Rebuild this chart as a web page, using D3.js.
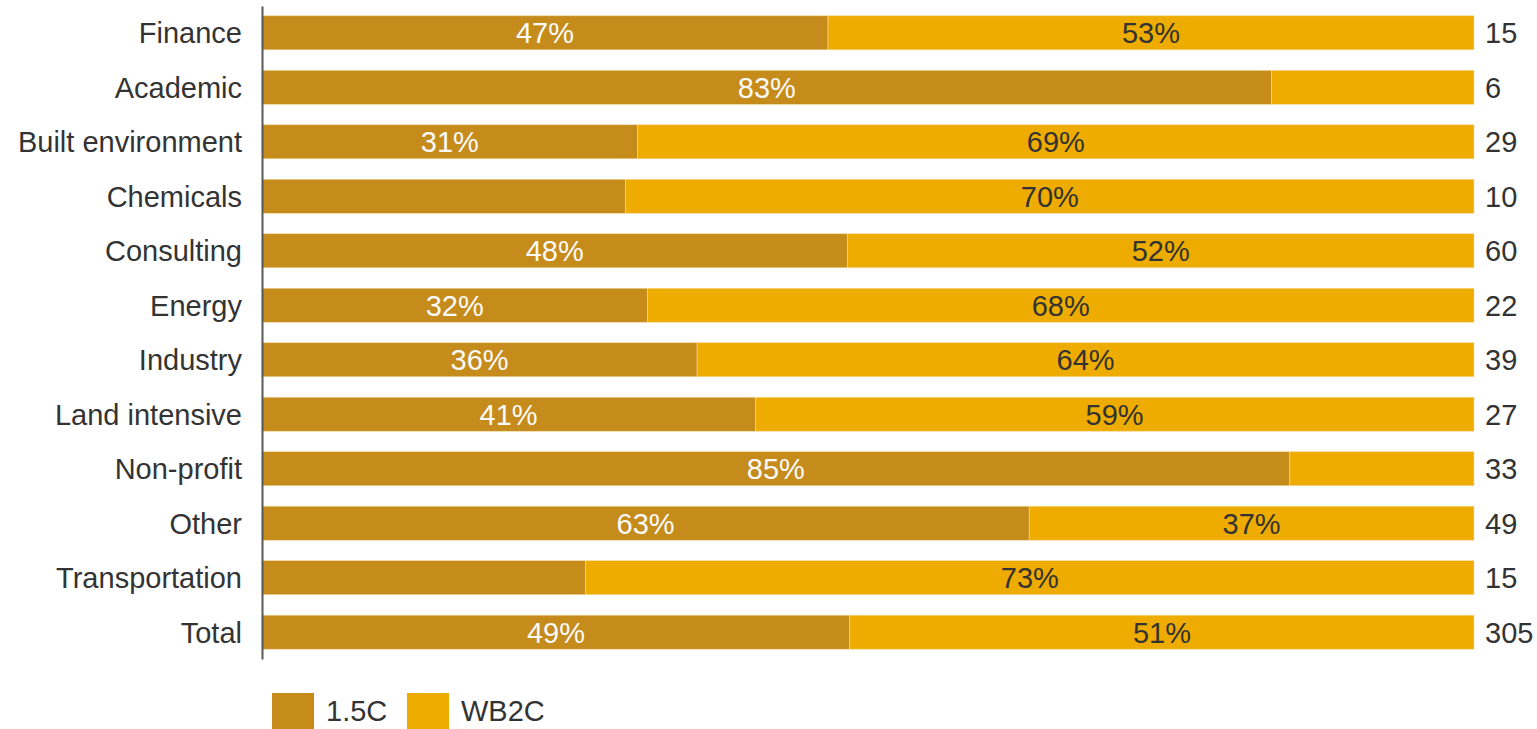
<!DOCTYPE html>
<html>
<head>
<meta charset="utf-8">
<script src="https://cdn.jsdelivr.net/npm/d3@7"></script>
<style>
  body { margin: 0; background: #fff; }
  text { font-family: "Liberation Sans", Arial, sans-serif; }
</style>
</head>
<body>
<div id="chart"></div>
<script>
// Chart values.
const sectors = ["Finance", "Academic", "Built environment", "Chemicals", "Consulting", "Energy",
  "Industry", "Land intensive", "Non-profit", "Other", "Transportation", "Total"];
const share15 = [46.7, 83.3, 31.0, 30.0, 48.3, 31.8, 35.9, 40.7, 84.8, 63.3, 26.7, 48.5];
const shareWB2 = [53.3, 16.7, 69.0, 70.0, 51.7, 68.2, 64.1, 59.3, 15.2, 36.7, 73.3, 51.5];
const label15 = ["47%", "83%", "31%", null, "48%", "32%", "36%", "41%", "85%", "63%", null, "49%"];
const labelWB2 = ["53%", null, "69%", "70%", "52%", "68%", "64%", "59%", null, "37%", "73%", "51%"];
const counts = [15, 6, 29, 10, 60, 22, 39, 27, 33, 49, 15, 305];
const seriesNames = ["1.5C", "WB2C"];

const width = 1537;
const height = 729;
const colors = ["#C58B1B", "#EFAC00"];
const fontSize = 29;

const rows = sectors.map(function(s, i) {
  return { sector: s, a: share15[i], b: shareWB2[i], la: label15[i], lb: labelWB2[i], n: counts[i] };
});

const svg = d3.select("#chart")
  .append("svg")
  .attr("width", width)
  .attr("height", height);

const x = d3.scaleLinear()
  .domain([0, 100])
  .range([262, 1474]);

const y = d3.scaleBand()
  .domain(sectors)
  .range([6, 659])
  .paddingInner(0.376)
  .paddingOuter(0.18);

// Stacked bars.
const stack = d3.stack().keys(["a", "b"]);
const layers = stack(rows);

svg.selectAll("g.layer")
  .data(layers)
  .enter()
  .append("g")
  .attr("class", "layer")
  .attr("fill", function(d, i) { return colors[i]; })
  .selectAll("rect")
  .data(function(d) { return d; })
  .enter()
  .append("rect")
  .attr("x", function(d) { return x(d[0]); })
  .attr("y", function(d) { return y(d.data.sector); })
  .attr("width", function(d) { return x(d[1]) - x(d[0]); })
  .attr("height", y.bandwidth())
  .attr("stroke", "#f3d9a0")
  .attr("stroke-width", 0.6);

// Percent labels inside the segments.
const labelKeys = ["la", "lb"];
const labelColors = ["#fafafa", "#333333"];
layers.forEach(function(layer, i) {
  svg.append("g")
    .selectAll("text")
    .data(layer.filter(function(d) { return d.data[labelKeys[i]]; }))
    .enter()
    .append("text")
    .attr("x", function(d) { return (x(d[0]) + x(d[1])) / 2; })
    .attr("y", function(d) { return y(d.data.sector) + y.bandwidth() / 2; })
    .attr("dy", "0.36em")
    .attr("text-anchor", "middle")
    .attr("font-size", fontSize)
    .attr("fill", labelColors[i])
    .text(function(d) { return d.data[labelKeys[i]]; });
});

// Sample size on the right.
svg.append("g")
  .selectAll("text")
  .data(rows)
  .enter()
  .append("text")
  .attr("x", x(100) + 11)
  .attr("y", function(d) { return y(d.sector) + y.bandwidth() / 2; })
  .attr("dy", "0.36em")
  .attr("font-size", fontSize)
  .attr("fill", "#333333")
  .text(function(d) { return d.n; });

// Category axis.
const yAxis = svg.append("g")
  .attr("transform", "translate(" + x(0) + ",0)")
  .call(d3.axisLeft(y).tickSize(0).tickPadding(20));

yAxis.select(".domain")
  .attr("stroke", "#595959")
  .attr("stroke-width", 2);

yAxis.selectAll("text")
  .attr("font-size", fontSize)
  .attr("font-family", "'Liberation Sans', Arial, sans-serif")
  .attr("fill", "#333333")
  .attr("dy", "0.36em");

// Legend (sits at the bottom edge, as in the original).
const legend = svg.append("g")
  .selectAll("g")
  .data(seriesNames)
  .enter()
  .append("g")
  .attr("transform", function(d, i) { return "translate(" + (272 + i * 135) + ",693)"; });

legend.append("rect")
  .attr("width", 42)
  .attr("height", 42)
  .attr("fill", function(d, i) { return colors[i]; });

legend.append("text")
  .attr("x", 54)
  .attr("y", 28)
  .attr("font-size", fontSize)
  .attr("fill", "#333333")
  .text(function(d) { return d; });
</script>
</body>
</html>
